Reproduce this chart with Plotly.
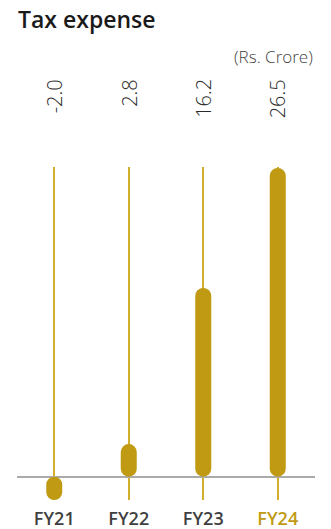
import plotly.graph_objects as go

# Tax expense by fiscal year (Rs. Crore)
years = ["FY21", "FY22", "FY23", "FY24"]
tax_expense = [-2.0, 2.8, 16.2, 26.5]
value_labels = ["-2.0", "2.8", "16.2", "26.5"]

GOLD = "#BF9A12"
GOLD_LINE = "#D2AE2C"
DARK = "#3f3f3f"
FONT = "Open Sans"

fig = go.Figure()
fig.add_trace(go.Bar(
    x=years, y=tax_expense, base=[0] * len(tax_expense),
    width=0.215,
    marker=dict(color=GOLD, cornerradius=8, line=dict(width=0)),
    hoverinfo="skip", showlegend=False,
))

# Value labels above each column, written upwards
for yr, txt in zip(years, value_labels):
    fig.add_annotation(
        x=yr, xref="x", y=1.27, yref="paper",
        text=txt, textangle=-90, showarrow=False,
        xanchor="center", yanchor="top",
        font=dict(family=FONT, size=20, color="#2a2a2a", weight=300),
    )

fig.add_annotation(
    x=1, xref="paper", y=1.333, yref="paper",
    text="(Rs. Crore)", showarrow=False,
    xanchor="right", yanchor="middle",
    font=dict(family=FONT, size=17, color="#444444", weight=300),
)

tick_text = years[:-1] + [f'<span style="color:{GOLD}">{years[-1]}</span>']

fig.update_layout(
    width=331, height=529,
    margin=dict(l=17, r=16, t=167, b=29, autoexpand=False),
    paper_bgcolor="white", plot_bgcolor="white",
    barmode="overlay",
    title=dict(
        text="Tax expense", x=18 / 331, xref="container", xanchor="left",
        y=1 - 20 / 529, yref="container", yanchor="middle",
        font=dict(family=FONT, size=23, color="#1a1a1a", weight=600),
    ),
    xaxis=dict(
        type="category", categoryorder="array", categoryarray=years,
        tickmode="array", tickvals=years, ticktext=tick_text,
        range=[-0.5, 3.5], automargin=False,
        showgrid=True, gridcolor=GOLD_LINE, gridwidth=1.6,
        showline=False, zeroline=False, ticks="",
        tickfont=dict(family=FONT, size=18, color=DARK, weight=600),
        ticklabelstandoff=6,
    ),
    yaxis=dict(
        range=[-2.0, 26.58], automargin=False,
        showgrid=False, showticklabels=False, ticks="",
        zeroline=True, zerolinecolor="#aaaaaa", zerolinewidth=1.6,
        showline=False,
    ),
)

fig.write_html("out.html")
